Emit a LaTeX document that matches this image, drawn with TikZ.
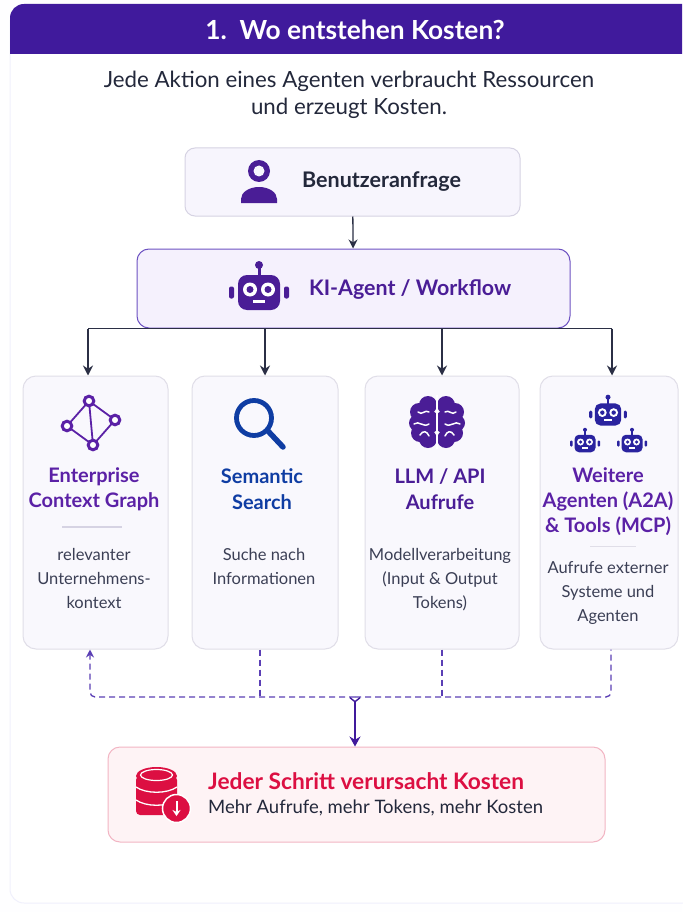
\documentclass[tikz,border=0pt]{standalone}
\usepackage{fontspec}
\setmainfont{Lato}
\usetikzlibrary{
  arrows.meta,
  positioning,calc
}
\definecolor{headviolet}{HTML}{401A9C}
\definecolor{agentviolet}{HTML}{4A1D96}
\definecolor{graphviolet}{HTML}{5B21A6}
\definecolor{searchblue}{HTML}{0F3DA3}
\definecolor{botblue}{HTML}{2A239F}
\definecolor{inktext}{HTML}{23283B}
\definecolor{softtext}{HTML}{3B3F55}
\definecolor{costred}{HTML}{DC0F42}
\definecolor{dashviolet}{HTML}{5B3FB5}
\definecolor{arrowink}{HTML}{2B2F45}
\definecolor{userfill}{HTML}{F7F5FD}
\definecolor{userline}{HTML}{D6D3E3}
\definecolor{agentfill}{HTML}{F5F1FD}
\definecolor{agentline}{HTML}{6D52C2}
\definecolor{cardfill}{HTML}{F9F8FD}
\definecolor{cardline}{HTML}{E0DEE8}
\definecolor{costfill}{HTML}{FEF3F5}
\definecolor{costline}{HTML}{F2B5C3}
\tikzset{
box/.style args = {#1/#2/#3}{
            draw=#3, fill=#2, line width=1pt, rounded corners=#1,
            inner sep=0pt},
cardbox/.style = {box={13pt/cardfill/cardline},
            minimum height=273pt},
cardtitle/.style = {font=\bfseries\fontsize{20}{25.3}\selectfont,
            align=center, inner sep=0pt},
cardtext/.style = {font=\fontsize{16.5}{24}\selectfont, text=softtext,
            align=center, inner sep=0pt},
flow/.style = {draw=arrowink, line width=1.7pt,
            -{Stealth[length=10pt,width=10pt]}},
dashflow/.style = {draw=dashviolet, line width=1.3pt,
            dash pattern=on 6pt off 4pt, rounded corners=5pt},
}
% little robot head, centre and scale as arguments
\newcommand{\roboticon}[4]{
  \begin{scope}[shift={(#1,#2)},scale=#3]
    \fill[#4] (0,-27.5) circle (4);
    \fill[#4] (-1.5,-26) rectangle (1.5,-16);
    \fill[#4,rounded corners=#3*9pt] (-21,-17.5) rectangle (21,17.5);
    \fill[#4,rounded corners=#3*2pt] (-30,-6) rectangle (-25,6);
    \fill[#4,rounded corners=#3*2pt] (25,-6) rectangle (30,6);
    \foreach \ex in {-9,9}{
      \fill[white] (\ex,-3) circle (7);
      \fill[#4] (\ex,-3) circle (3.5);
    }
    \fill[white] (-6,7.5) rectangle (6,10.5);
  \end{scope}
}
\begin{document}
\begin{tikzpicture}[x=1pt,y=-1pt]
  \useasboundingbox (0,0) rectangle (682,912);
  \fill[white!50!blue!1] (0,0) rectangle (682,912);
  \draw[gray!30!blue!7,line width=1pt,fill=white,rounded corners=14pt]
    (10,20) -- (10,903) -- (700,903) -- (700,20);
  \fill[headviolet] (10,54) -- (10,18) arc[start angle=180,end angle=270,radius=14] -- (682,4) -- (682,54) -- cycle;

  \node[text=white,font=\bfseries\fontsize{26.3}{30}\selectfont] (title) at (355,30) {1.\ \ Wo entstehen Kosten?};
  \node[text=inktext,font=\fontsize{22.3}{27}\selectfont,align=center] (intro) at (349,95)
    {Jede Aktion eines Agenten verbraucht Ressourcen\\und erzeugt Kosten.};

  \node[box={10pt/userfill/userline},minimum width=335pt,minimum height=68pt] (user) at (352.5,182) {};
  \node[box={12pt/agentfill/agentline},minimum width=433pt,minimum height=79pt] (agent) at (353.5,288.5) {};
  \node[cardbox,minimum width=145pt] (ecg) at (95.5,512.5) {};
  \node[cardbox,minimum width=146pt] (search) at (265,512.5) {};
  \node[cardbox,minimum width=154pt] (llm) at (442,512.5) {};
  \node[cardbox,minimum width=138pt] (more) at (609,512.5) {};
  \node[box={12pt/costfill/costline},minimum width=497pt,minimum height=95pt] (cost) at (356.5,794.5) {};

  \node[font=\bfseries\fontsize{21.5}{24}\selectfont,text=inktext,anchor=west,inner sep=0pt] (userlabel) at (302,181.5) {Benutzeranfrage};
  \node[font=\bfseries\fontsize{21.4}{24}\selectfont,text=agentviolet,anchor=west,inner sep=0pt] (agentlabel) at (309,289) {KI-Agent / Workflow};

  \node[cardtitle,text=graphviolet] (ecgtitle) at (94,489) {Enterprise\\Context Graph};
  \node[cardtitle,text=searchblue] (searchtitle) at (262,489) {Semantic\\Search};
  \node[cardtitle,text=agentviolet] (llmtitle) at (440,489) {LLM / API\\Aufrufe};
  \node[cardtitle,text=graphviolet] (moretitle) at (608,501.5) {Weitere\\Agenten (A2A)\\\& Tools (MCP)};

  \node[cardtext] (ecgtext) at (94,578.5) {relevanter\\Unternehmens-\\kontext};
  \node[cardtext] (searchtext) at (264,566.5) {Suche nach\\Informationen};
  \node[cardtext] (llmtext) at (440,579.5) {Modellverarbeitung\\(Input \& Output\\Tokens)};
  \node[cardtext] (moretext) at (608,593.5) {Aufrufe externer\\Systeme und\\Agenten};

  \draw[userline,line width=1.2pt] (62,527) -- (122,527);
  \draw[cardline,line width=1pt] (590,546) -- (636,546);

  \node[font=\bfseries\fontsize{22.7}{26}\selectfont,text=costred,anchor=west,inner sep=0pt] (costtitle) at (208,781) {Jeder Schritt verursacht Kosten};
  \node[font=\fontsize{18.5}{22}\selectfont,text=inktext,anchor=west,inner sep=0pt] (costtext) at (208,808) {Mehr Aufrufe, mehr Tokens, mehr Kosten};

  % arrows
  \draw[flow,line width=1.3pt,-{Stealth[length=9pt,width=9pt]}] (user) -- (agent);
  \draw[draw=arrowink,line width=1.7pt] ([xshift=-7.5pt]ecg.north |- agent.south) -- ([xshift=3pt]more.north |- agent.south);
  \draw[flow] ([xshift=-7.5pt]ecg.north |- agent.south) -- ([xshift=-7.5pt]ecg.north);
  \draw[flow] (search.north |- agent.south) -- (search.north);
  \draw[flow] (llm.north |- agent.south) -- (llm.north);
  \draw[flow] ([xshift=3pt]more.north |- agent.south) -- ([xshift=3pt]more.north);

  \coordinate (bus) at (355,697);
  \draw[dashflow,-{Stealth[length=8pt,width=8pt]}] (bus) -| ([xshift=-5.5pt]ecg.south);
  \draw[dashflow] (bus) -| ([xshift=2pt]more.south);
  \draw[dashflow] ([xshift=-5pt]search.south) -- ([xshift=-5pt]search.south |- bus);
  \draw[dashflow] (llm.south) -- (llm.south |- bus);
  \draw[flow,draw=headviolet,line width=1.4pt,{Straight Barb[reversed,length=4pt,width=10pt]}-{Stealth[length=10pt,width=11pt]}] (bus) -- (bus |- cost.north);

  % user
  \fill[agentviolet] (259,171) circle (11);
  \fill[userfill] (259,171) circle (5.5);
  \fill[agentviolet] (241,203) -- (241,199) arc[start angle=180,end angle=360,x radius=18,y radius=12] -- (277,203) -- cycle;

  \roboticon{259}{292.5}{1}{agentviolet}
  \roboticon{608}{414.5}{0.63}{botblue}
  \roboticon{585}{443.5}{0.5}{botblue}
  \roboticon{632}{443.5}{0.5}{botblue}

  % graph
  \coordinate (gt) at (89,401);
  \coordinate (gr) at (115,420);
  \coordinate (gb) at (93,445);
  \coordinate (gl) at (67,426);
  \draw[graphviolet,line width=1.8pt] (gt) -- (gr) -- (gb) -- (gl) -- cycle (gt) -- (gb);
  \foreach \gn in {gt,gr,gb,gl}{
    \draw[graphviolet,line width=3pt,fill=white] (\gn) circle (4.8);
  }

  % lens
  \draw[searchblue,line width=4.8pt] (254,418) circle (17.5);
  \draw[searchblue,line width=5.5pt,line cap=round] (268,431) -- (283,447);

  % brain
  \foreach \side in {-1,1}{
    \begin{scope}[shift={(437,422)},xscale=\side]
      \fill[agentviolet] (-9,-17) circle (9) (-18,-10) circle (9) (-20,1) circle (8)
        (-17,11) circle (9) (-9,17) circle (9) (-9,0) circle (12);
      \draw[white,line width=1.5pt,line cap=round]
        (-19,-10) .. controls (-15,-6) and (-12,-13) .. (-8,-10)
        (-23,2) .. controls (-18,-2) and (-14,6) .. (-8,2)
        (-17,13) .. controls (-14,8) and (-10,9) .. (-8,14);
    \end{scope}
  }
  \draw[white,line width=1.5pt] (437,395) -- (437,449);

  % coins
  \fill[costred,rounded corners=4pt] (136,776) rectangle (177,815);
  \fill[costred] (156.5,776) ellipse (20.5 and 9);
  \draw[white,line width=1.3pt] (136,787) .. controls (146,794) and (167,794) .. (177,787);
  \draw[white,line width=1.3pt] (136,800) .. controls (146,807) and (167,807) .. (177,800);
  \draw[white,line width=1.2pt] (156.5,775) ellipse (16 and 5.5);
  \draw[white,line width=1.5pt,fill=costred] (176.5,808.5) circle (14);
  \draw[white,line width=2pt,-{Stealth[length=6pt,width=8pt]}] (176.5,801) -- (176.5,816);
\end{tikzpicture}
\end{document}
